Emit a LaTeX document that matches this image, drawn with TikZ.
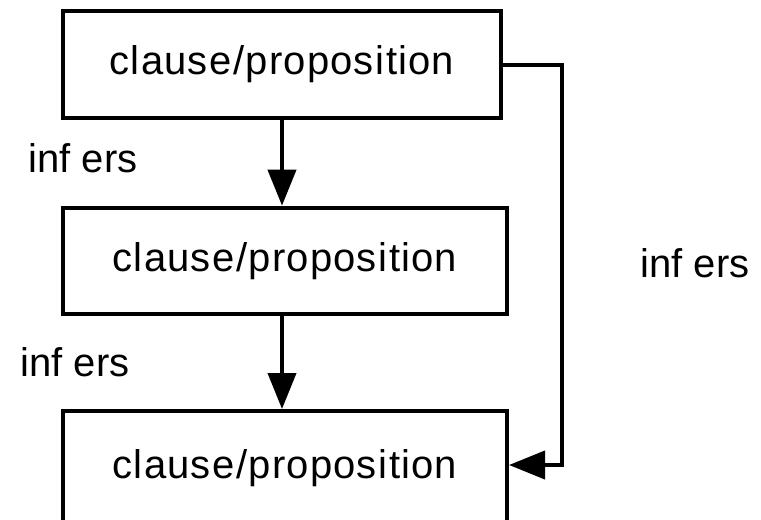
\documentclass[tikz,border=0pt]{standalone}
\usepackage{fontspec}
\setmainfont{Liberation Sans}
\newfontfamily\boxfont[LetterSpace=3]{Liberation Sans}
\usetikzlibrary{arrows.meta}
\tikzset{
  px/.style={x=0.75pt,y=-0.75pt},
  clausebox/.style={draw,line width=3pt,minimum height=80pt,inner sep=0pt,font=\boxfont\fontsize{30}{36}\selectfont},
  lbl/.style={inner sep=0pt,font=\fontsize{30}{36}\selectfont},
  conn/.style={line width=3pt,-{Triangle[length=27pt,width=21pt]}}
}
\begin{document}
\begin{tikzpicture}[px]
\useasboundingbox (0,0) rectangle (761,519);
\node[clausebox,minimum width=328.5pt] (top) at (282,64.5) {claus\kern1.5pt e/propos\kern1.5pt ition};
\node[clausebox,minimum width=333pt] (mid) at (285,261) {claus\kern1.5pt e/propos\kern1.5pt ition};
\node[clausebox,minimum width=333pt,minimum height=85.5pt] (bot) at (285,468) {\raisebox{2.25pt}{claus\kern1.5pt e/propos\kern1.5pt ition}};
\node[lbl] (l1) at (83,158) {inf ers};
\node[lbl] (l2) at (75,362) {inf ers};
\node[lbl] (l3) at (695,263) {inf ers};
\draw[conn] (top.south) -- (top.south |- mid.north);
\draw[conn] (mid.south -| top.south) -- (top.south |- bot.north);
\draw[conn] (top.east) -- ++(59,0) |- ([yshift=2.25pt]bot.east);
\end{tikzpicture}
\end{document}
